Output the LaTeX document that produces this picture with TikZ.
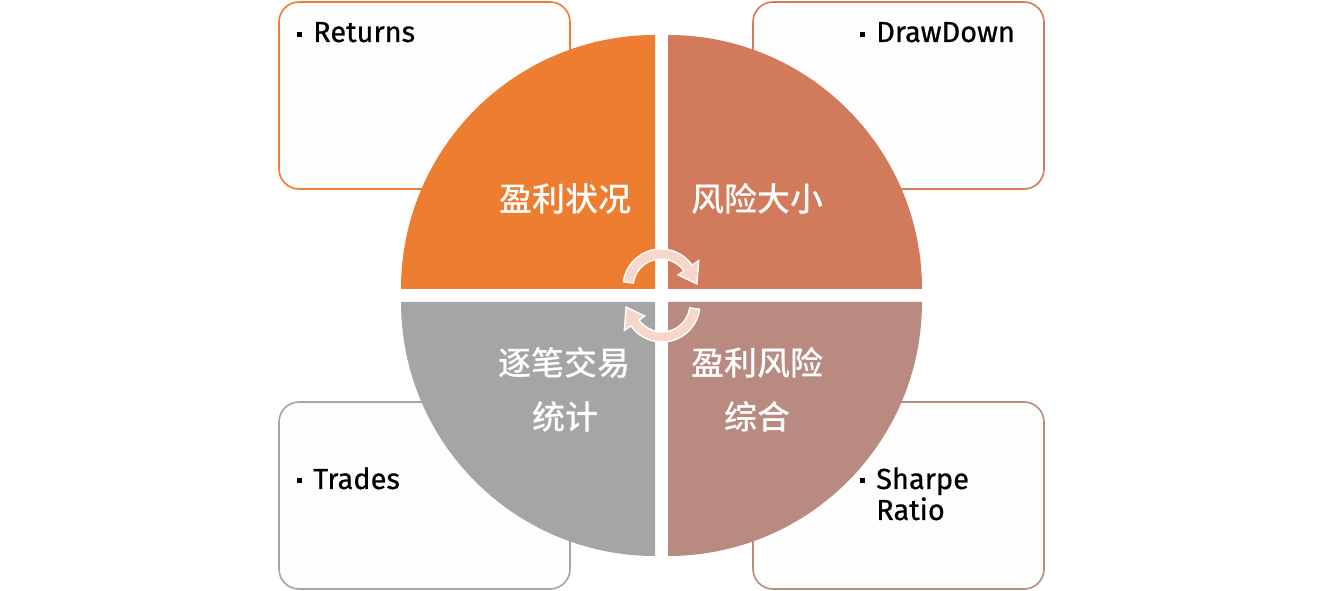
\documentclass[tikz,border=0pt]{standalone}
\usepackage{fontspec}
\setmainfont{Fira Sans}[FakeBold=0.5]
\newfontfamily\lat{Fira Sans}[FakeBold=0.6]
\newfontfamily\cjk{Noto Sans CJK SC}[BoldFont={Noto Sans CJK SC Medium}]
\usetikzlibrary{calc}
\definecolor{qone}{HTML}{ED7D31}
\definecolor{qtwo}{HTML}{D17A5C}
\definecolor{qthree}{HTML}{A5A5A5}
\definecolor{qfour}{HTML}{B98A80}
\definecolor{arrowfill}{HTML}{F8D6CA}
\definecolor{boxfill}{HTML}{FDFDFD}
\tikzset{
  infobox/.style={fill=boxfill, line width=1.6pt, rounded corners=20pt},
  qlabel/.style={text=white, font=\cjk\bfseries\fontsize{33}{36}\selectfont, inner sep=0pt, align=center},
  btext/.style={font=\lat\fontsize{29}{31}\selectfont, anchor=base west, inner sep=0pt, align=left},
  bullet/.style={fill=black, minimum size=5pt, inner sep=0pt},
  cyc/.style={fill=arrowfill, draw=white, line width=1.4pt, line join=miter}
}
\begin{document}
\begin{tikzpicture}[x=1pt,y=1pt]
\useasboundingbox (0,0) rectangle (1323,591);
% boxes
\draw[infobox, draw=qone] (279,402) rectangle (570,589);
\draw[infobox, draw=qtwo] (753,402) rectangle (1044,589);
\draw[infobox, draw=qthree] (279,2) rectangle (570,189);
\draw[infobox, draw=qfour] (753,2) rectangle (1044,189);
% quadrants
\fill[qone] (655,302) -- ++(-254,0) arc (180:90:254) -- cycle;
\fill[qtwo] (668,302) -- ++(0,254) arc (90:0:254) -- cycle;
\fill[qthree] (655,289) -- ++(-254,0) arc (180:270:254) -- cycle;
\fill[qfour] (668,289) -- ++(254,0) arc (0:-90:254) -- cycle;
% cycle arrows
\coordinate (ca) at (661,304);
\path[cyc] ($(ca)+(172:38)$) arc (172:35:38) -- ($(ca)+(35:46)$) -- ($(ca)+(5:36)$) -- ($(ca)+(35:21)$) -- ($(ca)+(35:28)$) arc (35:172:28) -- cycle;
\begin{scope}[rotate around={180:(661.5,295.5)}]
\coordinate (cb) at (661,304);
\path[cyc] ($(cb)+(172:38)$) arc (172:35:38) -- ($(cb)+(35:46)$) -- ($(cb)+(5:36)$) -- ($(cb)+(35:21)$) -- ($(cb)+(35:28)$) arc (35:172:28) -- cycle;
\end{scope}
% quadrant labels
\node[qlabel] (l1) at (565,392) {盈利状况};
\node[qlabel] (l2) at (757,392) {风险大小};
\node[qlabel] (l3) at (564,228) {逐笔交易};
\node[qlabel] (l3b) at (565,174) {统计};
\node[qlabel] (l4) at (757,228) {盈利风险};
\node[qlabel] (l4b) at (757,174) {综合};
% box texts
\node[bullet] (b1) at (299,556) {};
\node[btext] (t1) at (313,549) {Returns};
\node[bullet] (b2) at (862,556) {};
\node[btext] (t2) at (876,549) {DrawDown};
\node[bullet] (b3) at (299,110) {};
\node[btext] (t3) at (313,102) {Trades};
\node[bullet] (b4) at (862,110) {};
\node[btext] (t4) at (876,71) {Sharpe\\Ratio};
\end{tikzpicture}
\end{document}
